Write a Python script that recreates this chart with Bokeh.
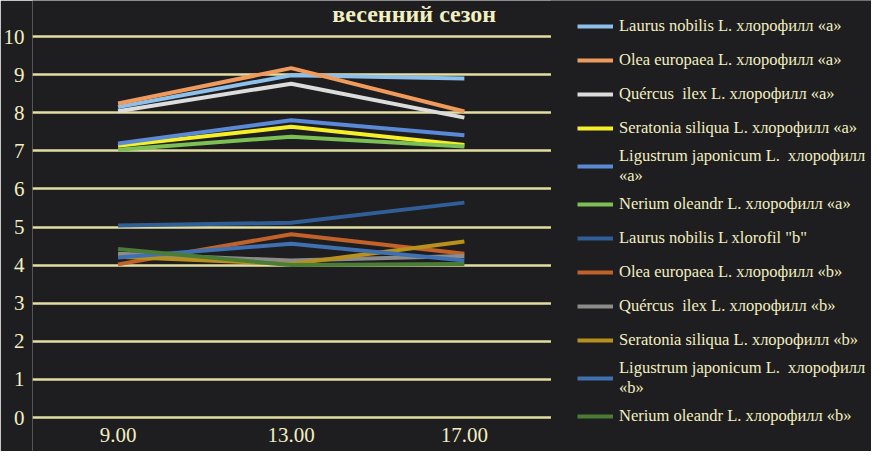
from bokeh.plotting import figure
from bokeh.models import Range1d, Legend, LegendItem, FixedTicker, Label, BoxAnnotation
from bokeh.core.properties import value
from bokeh.embed import file_html
from bokeh.resources import INLINE

# ---- data ----
times = ["9.00", "13.00", "17.00"]
laurus_a = [8.15, 8.98, 8.90]
olea_a = [8.24, 9.17, 8.03]
quercus_a = [8.04, 8.76, 7.87]
seratonia_a = [7.13, 7.63, 7.15]
ligustrum_a = [7.19, 7.80, 7.41]
nerium_a = [7.03, 7.37, 7.11]
laurus_b = [5.04, 5.11, 5.64]
olea_b = [4.02, 4.81, 4.30]
quercus_b = [4.30, 4.12, 4.24]
seratonia_b = [4.22, 4.03, 4.62]
ligustrum_b = [4.20, 4.56, 4.12]
nerium_b = [4.42, 4.00, 4.03]
y_ticks = [0, 1, 2, 3, 4, 5, 6, 7, 8, 9, 10]
title_text = "весенний сезон"

names = [
    "Laurus nobilis L. хлорофилл «a»",
    "Olea europaea L. хлорофилл «a»",
    "Quércus  ilex L. хлорофилл «a»",
    "Seratonia siliqua L. хлорофилл «a»",
    "Ligustrum japonicum L.  хлорофилл\n«a»",
    "Nerium oleandr L. хлорофилл «a»",
    "Laurus nobilis L xlorofil \"b\"",
    "Olea europaea L. хлорофилл «b»",
    "Quércus  ilex L. хлорофилл «b»",
    "Seratonia siliqua L. хлорофилл «b»",
    "Ligustrum japonicum L.  хлорофилл\n«b»",
    "Nerium oleandr L. хлорофилл «b»",
]
series = [laurus_a, olea_a, quercus_a, seratonia_a, ligustrum_a, nerium_a,
          laurus_b, olea_b, quercus_b, seratonia_b, ligustrum_b, nerium_b]
colors = ["#8cc0ea", "#f09a5c", "#dcdcdc", "#f5ef2a", "#5a8ad6", "#7cbf55",
          "#2f5f96", "#c0622a", "#8c8c8c", "#b8901c", "#3f70b0", "#4a7c36"]

BG = "#1e1d1f"
TXT = "#f2efc0"
FONT = "Liberation Serif"

# category positions on a numeric scale; labels come from `times`
xpos = list(range(len(times)))

p = figure(width=871, height=451, x_range=Range1d(-0.494, 4.351), y_range=Range1d(-0.892, 10.945),
           output_backend="svg", toolbar_location=None,
           min_border_left=29, min_border_right=0, min_border_top=0, min_border_bottom=0)
p.background_fill_color = BG
p.border_fill_color = BG
p.outline_line_color = None

p.xgrid.grid_line_color = None
p.ygrid.grid_line_color = "#e2dea2"
p.ygrid.grid_line_width = 2.5
p.yaxis.ticker = FixedTicker(ticks=y_ticks)
p.xaxis.visible = False

ax = p.yaxis[0]
ax.axis_line_color = None
ax.major_tick_line_color = None
ax.minor_tick_line_color = None
ax.major_tick_out = 0
ax.major_tick_in = 0
ax.minor_tick_out = 0
ax.minor_tick_in = 0
ax.major_label_text_font = FONT
ax.major_label_text_font_size = "21px"
ax.major_label_text_color = TXT
ax.major_label_standoff = 8

items = []
for name, vals, c in zip(names, series, colors):
    r = p.line(xpos, vals, line_color=c, line_width=4)
    items.append(LegendItem(label=name, renderers=[r]))

# category labels under the chart, placed on the same scales
p.text(x=xpos, y=[-0.446] * len(times), text=times, text_font=value(FONT),
       text_font_size="21px", text_color=TXT, text_align="center", text_baseline="middle")

# the chart area ends at the right edge of the last category; hide gridlines beyond it
cover = BoxAnnotation(left=xpos[-1] + 0.5, fill_color=BG, fill_alpha=1.0, line_alpha=0)
p.add_layout(cover)

title = Label(x=xpos[1], y=10.58, x_offset=123, text=title_text,
              text_font=FONT, text_font_size="24px", text_color=TXT,
              text_font_style="bold", text_align="center", text_baseline="middle")
p.add_layout(title)

legend = Legend(items=items, location=(545, 19))
legend.background_fill_alpha = 0
legend.border_line_alpha = 0
legend.label_text_font = FONT
legend.label_text_font_size = "16.5px"
legend.label_text_line_height = 1.0
legend.label_text_color = TXT
legend.glyph_width = 36
legend.glyph_height = 32
legend.label_height = 32
legend.spacing = 2
legend.padding = 0
legend.margin = 0
legend.label_standoff = 6
p.add_layout(legend, "center")

open("out.html", "w").write(file_html(p, INLINE))
